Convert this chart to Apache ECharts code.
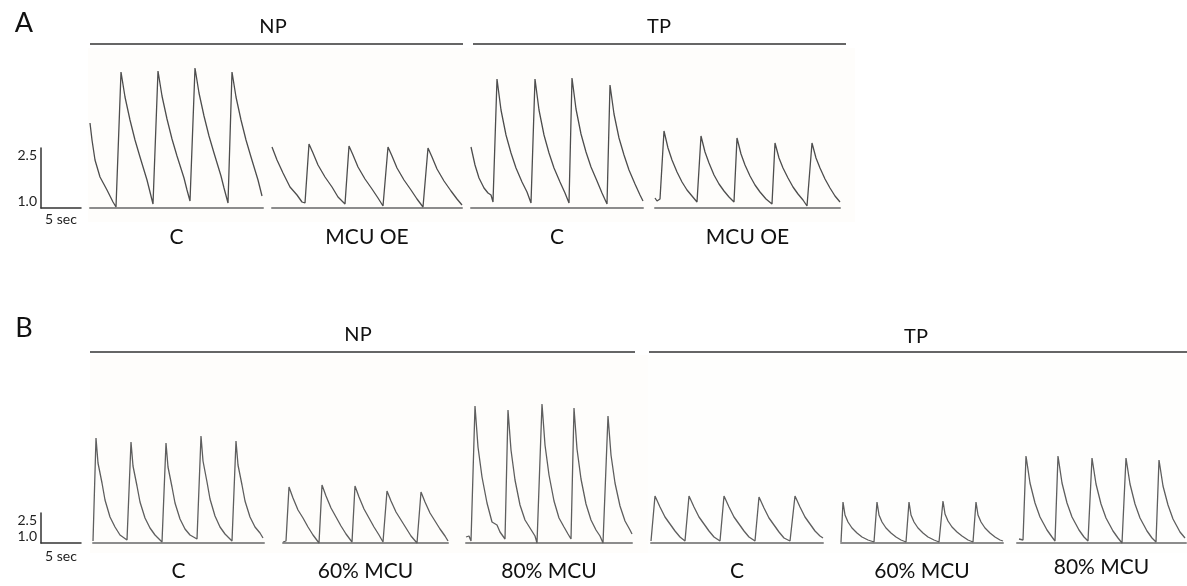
<!DOCTYPE html>
<html>
<head>
<meta charset="utf-8">
<script src="https://cdn.jsdelivr.net/npm/echarts@6/dist/echarts.min.js"></script>
<style>html,body{margin:0;padding:0;background:#fff}#c{width:1187px;height:586px}</style>
</head>
<body>
<div id="c"></div>
<script>
// ---------- DATA (time in s, value = fluorescence ratio) ----------
const panelLetters = ['A', 'B'];
const groupsA = ['NP', 'TP'];
const groupsB = ['NP', 'TP'];
const condsA = ['C', 'MCU OE', 'C', 'MCU OE'];
const condsB = ['C', '60% MCU', '80% MCU', 'C', '60% MCU', '80% MCU'];
const scaleTicks = [1.0, 2.5];
const scaleTimeSec = 5;
const scaleTimeLabel = '5 sec';

const A_NP_C = [[0,3.125],[0.25,2.7],[0.625,2.2],[1.25,1.775],[2.125,1.45],[2.875,1.15],[3.25,1.025],
 [3.875,4.4],[4.375,3.775],[5.0,3.2],[5.625,2.7],[6.25,2.275],[7.125,1.7],[7.5,1.4],[7.875,1.1],
 [8.5,4.425],[9.0,3.8],[9.625,3.225],[10.25,2.725],[10.875,2.3],[11.75,1.75],[12.125,1.45],[12.5,1.175],
 [13.125,4.5],[13.625,3.875],[14.25,3.3],[14.875,2.8],[15.5,2.375],[16.375,1.8],[16.75,1.5],[17.25,1.125],
 [17.75,4.4],[18.25,3.775],[18.875,3.2],[19.5,2.7],[20.125,2.275],[21.0,1.7],[21.5,1.3]];
const A_NP_OE = [[0,2.525],[0.625,2.2],[1.375,1.875],[2.25,1.525],[3.125,1.325],[3.75,1.15],[4.125,1.125],
 [4.625,2.6],[5.125,2.375],[5.75,2.075],[6.625,1.775],[7.5,1.525],[8.25,1.275],[9.125,1.1],
 [9.625,2.55],[10.125,2.325],[10.75,2.025],[11.625,1.725],[12.5,1.475],[13.25,1.25],[13.875,1.05],
 [14.5,2.525],[15.0,2.3],[15.625,2.0],[16.5,1.7],[17.375,1.45],[18.125,1.225],[18.875,1.025],
 [19.5,2.5],[20.0,2.275],[20.625,1.975],[21.5,1.675],[22.375,1.425],[23.125,1.225],[23.75,1.075]];
const A_TP_C = [[0,2.525],[0.5,2.075],[1.0,1.75],[1.625,1.5],[2.125,1.375],[2.5,1.325],[2.75,1.15],
 [3.25,4.225],[3.75,3.45],[4.375,2.825],[5.0,2.375],[5.625,2.0],[6.375,1.65],[7.0,1.4],[7.5,1.125],
 [8.0,4.225],[8.5,3.45],[9.125,2.825],[9.75,2.375],[10.375,2.0],[11.125,1.65],[11.75,1.375],[12.25,1.125],
 [12.625,4.25],[13.125,3.475],[13.75,2.85],[14.375,2.4],[15.0,2.025],[15.75,1.675],[16.375,1.375],[17.0,1.1],
 [17.375,4.075],[17.875,3.35],[18.5,2.75],[19.125,2.325],[19.75,1.95],[20.5,1.6],[21.125,1.325],[21.5,1.175]];
const A_TP_OE = [[0,1.25],[0.25,1.175],[0.625,1.225],
 [1.125,2.925],[1.625,2.5],[2.125,2.2],[2.75,1.9],[3.375,1.65],[4.0,1.45],[4.625,1.3],[5.25,1.15],
 [5.75,2.8],[6.25,2.4],[6.75,2.125],[7.375,1.825],[8.0,1.6],[8.625,1.425],[9.25,1.275],[9.875,1.15],
 [10.25,2.75],[10.75,2.35],[11.25,2.075],[11.875,1.8],[12.5,1.575],[13.125,1.4],[13.875,1.225],[14.625,1.1],
 [15.0,2.625],[15.5,2.25],[16.0,2.0],[16.625,1.75],[17.25,1.525],[17.875,1.35],[18.5,1.2],[19.0,1.05],
 [19.625,2.625],[20.125,2.25],[20.625,2.0],[21.25,1.725],[21.875,1.5],[22.5,1.3],[23.125,1.15]];

const B_NP_C = [[0,1.1],[0.375,6.25],[0.625,5.0],[1.125,4.0],[1.5,3.15],[2.125,2.3],[2.75,1.8],[3.375,1.4],[4.25,1.15],
 [4.75,6.05],[5.0,4.85],[5.5,3.85],[5.875,3.05],[6.5,2.25],[7.125,1.75],[7.75,1.4],[8.625,1.05],
 [9.125,6.0],[9.375,4.8],[9.875,3.8],[10.25,3.0],[10.875,2.2],[11.5,1.7],[12.125,1.4],[13.0,1.2],
 [13.5,6.35],[13.75,5.1],[14.25,4.05],[14.625,3.2],[15.25,2.35],[15.875,1.8],[16.5,1.45],[17.375,1.1],
 [17.875,6.1],[18.125,4.9],[18.625,3.9],[19.0,3.1],[19.625,2.3],[20.25,1.8],[20.875,1.5],[21.25,1.25]];
const B_NP_60 = [[0,1.05],[0.375,1.1],
 [0.75,3.8],[1.25,3.25],[1.875,2.65],[2.5,2.25],[3.125,1.8],[3.75,1.4],[4.5,1.0],
 [4.875,3.9],[5.375,3.35],[6.0,2.75],[6.625,2.3],[7.25,1.85],[7.875,1.45],[8.625,1.05],
 [9.0,3.85],[9.5,3.3],[10.125,2.7],[10.75,2.25],[11.375,1.8],[12.0,1.4],[12.5,1.05],
 [13.0,3.6],[13.5,3.1],[14.125,2.55],[14.75,2.15],[15.375,1.75],[16.0,1.35],[16.75,1.0],
 [17.25,3.55],[17.75,3.05],[18.375,2.5],[19.0,2.1],[19.625,1.7],[20.25,1.35],[20.625,1.1]];
const B_NP_80 = [[0,1.3],[0.375,1.35],[0.625,1.1],
 [1.125,7.85],[1.5,5.8],[2.0,4.3],[2.625,3.0],[3.25,2.05],[3.875,1.9],[4.25,1.55],[4.875,1.2],
 [5.25,7.65],[5.625,5.65],[6.125,4.15],[6.75,2.9],[7.375,2.15],[8.0,1.75],[8.625,1.35],[8.875,1.0],
 [9.5,7.95],[9.875,5.9],[10.375,4.4],[11.0,3.1],[11.625,2.25],[12.25,1.8],[12.75,1.45],[13.125,1.2],
 [13.5,7.75],[13.875,5.7],[14.375,4.2],[15.0,2.95],[15.625,2.15],[16.25,1.65],[16.75,1.35],[17.125,1.0],
 [17.75,7.35],[18.125,5.4],[18.625,4.0],[19.25,2.85],[19.875,2.1],[20.5,1.65],[20.75,1.45]];
const B_TP_C = [[0,1.1],[0.5,3.35],[1.125,2.8],[1.75,2.3],[2.375,1.95],[3.0,1.6],[3.625,1.3],[4.25,1.1],
 [4.75,3.35],[5.375,2.8],[6.0,2.3],[6.625,1.95],[7.25,1.6],[7.875,1.3],[8.625,1.1],
 [9.125,3.35],[9.75,2.8],[10.375,2.3],[11.0,1.95],[11.625,1.6],[12.25,1.3],[13.0,1.1],
 [13.5,3.3],[14.125,2.75],[14.75,2.25],[15.375,1.9],[16.0,1.55],[16.625,1.25],[17.375,1.1],
 [18.0,3.35],[18.625,2.8],[19.25,2.3],[19.875,1.95],[20.5,1.6],[21.125,1.35],[21.5,1.25]];
const B_TP_60 = [[0,1.05],[0.25,3.05],[0.5,2.4],[0.875,2.05],[1.375,1.75],[2.0,1.5],[2.625,1.3],[3.375,1.15],[4.125,1.05],
 [4.5,3.05],[4.75,2.4],[5.125,2.05],[5.625,1.75],[6.25,1.5],[6.875,1.3],[7.5,1.15],[8.125,1.05],
 [8.5,3.05],[8.75,2.4],[9.125,2.05],[9.625,1.75],[10.25,1.5],[10.875,1.3],[11.625,1.15],[12.25,1.05],
 [12.75,3.1],[13.0,2.45],[13.375,2.1],[13.875,1.8],[14.5,1.55],[15.125,1.35],[15.875,1.15],[16.5,1.05],
 [16.875,3.05],[17.125,2.4],[17.5,2.05],[18.0,1.75],[18.625,1.5],[19.25,1.3],[19.875,1.15],[20.25,1.1]];
const B_TP_80 = [[0.25,1.2],[0.5,1.15],[0.75,1.15],
 [1.125,5.35],[1.625,4.0],[2.25,3.0],[2.875,2.3],[3.75,1.65],[4.375,1.3],[4.75,1.1],
 [5.125,5.35],[5.625,4.0],[6.25,3.0],[6.875,2.3],[7.75,1.65],[8.375,1.3],[8.875,1.1],
 [9.375,5.25],[9.875,3.95],[10.5,2.95],[11.125,2.25],[12.0,1.6],[12.625,1.25],[13.125,1.0],
 [13.625,5.25],[14.125,3.95],[14.75,2.95],[15.375,2.25],[16.25,1.6],[16.875,1.25],[17.375,1.05],
 [17.75,5.15],[18.25,3.85],[18.875,2.9],[19.5,2.2],[20.375,1.55],[21.0,1.25]];

const tracesA = [A_NP_C, A_NP_OE, A_TP_C, A_TP_OE];
const tracesB = [B_NP_C, B_NP_60, B_NP_80, B_TP_C, B_TP_60, B_TP_80];

// ---------- LAYOUT ----------
const FONT = 'Lato, "Liberation Sans", sans-serif';
const PX_PER_SEC = 8;
const layoutA = { pxPerUnit: 40, base: 208, yMax: 4.75, slots: [[90,173,19],[272,190,19],[471,172,19],[655,185,19]] };
const layoutB = { pxPerUnit: 20, base: 543, yMax: 8.5, slots: [[93,171,18],[283,165,18],[466,166,18],[651,172,18],[841,162,18],[1017,169,14]] };

const grids = [], xAxes = [], yAxes = [], series = [];

function addPanel(layout, traces, conds, color) {
  const h = (layout.yMax - 1) * layout.pxPerUnit;
  layout.slots.forEach((s, i) => {
    const idx = grids.length;
    grids.push({ left: s[0], top: layout.base - h, width: s[1], height: h, containLabel: false });
    xAxes.push({
      gridIndex: idx, type: 'value', min: 0, max: s[1] / PX_PER_SEC,
      axisLine: { show: true, onZero: false, lineStyle: { color: '#8c8c8c', width: 2 } },
      axisTick: { show: false }, axisLabel: { show: false }, splitLine: { show: false },
      name: conds[i], nameLocation: 'middle', nameGap: s[2],
      nameTextStyle: { fontFamily: FONT, fontSize: 21, color: '#111' }
    });
    yAxes.push({ gridIndex: idx, type: 'value', min: 1, max: layout.yMax, show: false });
    series.push({
      type: 'line', xAxisIndex: idx, yAxisIndex: idx, data: traces[i],
      showSymbol: false, symbol: 'none', clip: false, animation: false,
      lineStyle: { color: color, width: 1.3 }
    });
  });
}
addPanel(layoutA, tracesA, condsA, '#4d4d4d');
addPanel(layoutB, tracesB, condsB, '#5e5e5e');

function addScaleBar(top, pxPerUnit, nameGap) {
  const idx = grids.length;
  const h = (scaleTicks[1] - scaleTicks[0]) * pxPerUnit;
  grids.push({ left: 41, top: top, width: scaleTimeSec * PX_PER_SEC, height: h });
  xAxes.push({
    gridIndex: idx, type: 'value', min: 0, max: scaleTimeSec,
    axisLine: { show: true, onZero: false, lineStyle: { color: '#333', width: 1.5 } },
    axisTick: { show: false }, axisLabel: { show: false }, splitLine: { show: false },
    name: scaleTimeLabel, nameLocation: 'middle', nameGap: nameGap,
    nameTextStyle: { fontFamily: FONT, fontSize: 14, color: '#222' }
  });
  yAxes.push({
    gridIndex: idx, type: 'value', min: scaleTicks[0], max: scaleTicks[1],
    axisLine: { show: true, onZero: false, lineStyle: { color: '#333', width: 1.5 } },
    axisTick: { show: false }, splitLine: { show: false },
    axisLabel: {
      customValues: scaleTicks, margin: 4, fontFamily: FONT, fontSize: 14, color: '#222',
      verticalAlignMinLabel: 'bottom', verticalAlignMaxLabel: 'top',
      formatter: v => (scaleTicks.indexOf(v) >= 0 ? v.toFixed(1) : '')
    }
  });
}
addScaleBar(layoutA.base - 60, 40, 4);
addScaleBar(layoutB.base - 30, 20, 6);

const txt = (x, y, t, size) => ({ type: 'text', x: x, y: y, style: { text: t, fill: '#111', font: size + 'px ' + FONT, textAlign: 'center', textVerticalAlign: 'middle' } });
const hline = (x1, x2, y) => ({ type: 'line', shape: { x1: x1, y1: y, x2: x2, y2: y }, style: { stroke: '#333', lineWidth: 1.6 } });

const graphic = [
  { type: 'rect', shape: { x: 88, y: 48, width: 767, height: 174 }, style: { fill: '#fefdfb' }, z: -10 },
  { type: 'rect', shape: { x: 90, y: 355, width: 558, height: 198 }, style: { fill: '#fefdfb' }, z: -10 },
  { type: 'rect', shape: { x: 648, y: 355, width: 539, height: 198 }, style: { fill: '#fefefd' }, z: -10 },
  txt(24, 23, panelLetters[0], 27), txt(24, 328, panelLetters[1], 27),
  hline(90, 463, 44), hline(473, 846, 44),
  txt(273, 27, groupsA[0], 20), txt(659, 27, groupsA[1], 20),
  hline(90, 635, 352), hline(649, 1187, 352),
  txt(358, 335, groupsB[0], 20), txt(916, 337, groupsB[1], 20)
];

const chart = echarts.init(document.getElementById('c'), null, { renderer: 'canvas' });
chart.setOption({
  backgroundColor: '#ffffff',
  animation: false,
  grid: grids, xAxis: xAxes, yAxis: yAxes, series: series,
  graphic: graphic
});
</script>
</body>
</html>
